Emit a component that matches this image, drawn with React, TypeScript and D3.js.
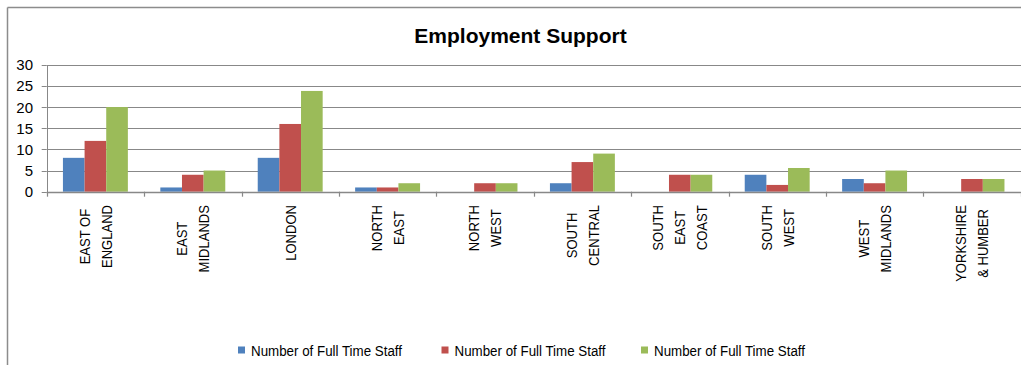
import React, { useEffect, useRef } from "react";
import * as d3 from "d3";

const categories: string[][] = [
  ["EAST OF", "ENGLAND"],
  ["EAST", "MIDLANDS"],
  ["LONDON"],
  ["NORTH", "EAST"],
  ["NORTH", "WEST"],
  ["SOUTH", "CENTRAL"],
  ["SOUTH", "EAST", "COAST"],
  ["SOUTH", "WEST"],
  ["WEST", "MIDLANDS"],
  ["YORKSHIRE", "& HUMBER"],
];
const seriesNames = ["Number of Full Time Staff", "Number of Full Time Staff", "Number of Full Time Staff"];
const blueValues = [8, 1, 8, 1, 0, 2, 0, 4, 3, 0];
const redValues = [12, 4, 16, 1, 2, 7, 4, 1.6, 2, 3];
const greenValues = [20, 5, 23.8, 2, 2, 9, 4, 5.6, 5, 3];
const yTicks = [0, 5, 10, 15, 20, 25, 30];
const title = "Employment Support";

const COLORS = ["#4F81BD", "#C0504D", "#9BBB59"];
const W = 1021;
const H = 365;
const FONT = "'Liberation Sans', Arial, sans-serif";

export default function App() {
  const ref = useRef<SVGSVGElement>(null);

  useEffect(() => {
    const svg = d3.select(ref.current);
    svg.selectAll("*").remove();

    const left = 46.7;
    const right = 1020.7;
    const top = 64.7;
    const bottom = 191.7;

    const x = d3.scaleBand<number>().domain(d3.range(categories.length)).range([left, right]).padding(0);
    const y = d3.scaleLinear().domain([0, 30]).range([bottom, top]);
    const cw = x.bandwidth();
    const bw = cw / 4.5;
    const off = (cw - 3 * bw) / 2;
    const xs = d3.scaleBand<number>().domain([0, 1, 2]).range([off, off + 3 * bw]).padding(0);

    // frame
    svg.append("line").attr("x1", 7.5).attr("x2", 7.5).attr("y1", 7.5).attr("y2", H).attr("stroke", "#8c8c8c").attr("stroke-width", 1.5);
    svg.append("line").attr("x1", 7.5).attr("x2", W).attr("y1", 7.5).attr("y2", 7.5).attr("stroke", "#8c8c8c").attr("stroke-width", 1.5);

    // title
    svg.append("text")
      .attr("x", 520.5).attr("y", 43)
      .attr("text-anchor", "middle")
      .attr("font-family", FONT).attr("font-weight", "bold").attr("font-size", 21)
      .attr("fill", "#000")
      .text(title);

    // gridlines
    svg.append("g").selectAll("line").data(yTicks).join("line")
      .attr("x1", left).attr("x2", W)
      .attr("y1", (d) => Math.round(y(d)) + 0.5).attr("y2", (d) => Math.round(y(d)) + 0.5)
      .attr("stroke", "#888").attr("stroke-width", 1);

    // y axis
    svg.append("line").attr("x1", Math.round(left) + 0.5).attr("x2", Math.round(left) + 0.5)
      .attr("y1", Math.round(top) + 0.5).attr("y2", Math.round(bottom) + 0.5).attr("stroke", "#888");
    svg.append("g").selectAll("line").data(yTicks).join("line")
      .attr("x1", left - 5).attr("x2", left)
      .attr("y1", (d) => Math.round(y(d)) + 0.5).attr("y2", (d) => Math.round(y(d)) + 0.5)
      .attr("stroke", "#888");
    svg.append("g").selectAll("text").data(yTicks).join("text")
      .attr("x", 33).attr("y", (d) => y(d) + 5.5)
      .attr("text-anchor", "end")
      .attr("font-family", FONT).attr("font-size", 15).attr("fill", "#000")
      .text((d) => String(d));

    // bars
    const series = [blueValues, redValues, greenValues];
    series.forEach((vals, si) => {
      svg.append("g").selectAll("rect").data(vals.map((v, i) => ({ v, i }))).join("rect")
        .filter((d) => d.v > 0)
        .attr("x", (d) => (x(d.i) as number) + (xs(si) as number))
        .attr("width", xs.bandwidth())
        .attr("y", (d) => y(d.v))
        .attr("height", (d) => y(0) - y(d.v))
        .attr("fill", COLORS[si]);
    });

    // x axis
    svg.append("line").attr("x1", left).attr("x2", right)
      .attr("y1", Math.round(bottom) + 0.5).attr("y2", Math.round(bottom) + 0.5)
      .attr("stroke", "#888").attr("stroke-width", 1.5);
    svg.append("g").selectAll("line").data(d3.range(categories.length + 1)).join("line")
      .attr("x1", (i) => Math.round(left + i * cw) + 0.5).attr("x2", (i) => Math.round(left + i * cw) + 0.5)
      .attr("y1", bottom).attr("y2", bottom + 5)
      .attr("stroke", "#888").attr("stroke-width", 1.2);

    // x labels
    const lineGap = 22;
    const blockTop = 205;
    const sx = 0.87;
    categories.forEach((lines, ci) => {
      const cx = (x(ci) as number) + cw / 2;
      const g = svg.append("g");
      const texts = lines.map((ln, j) => {
        const lc = cx + (j - (lines.length - 1) / 2) * lineGap;
        return g.append("text")
          .attr("text-anchor", "middle")
          .attr("font-family", FONT).attr("font-size", 15).attr("fill", "#000")
          .attr("data-lc", lc)
          .text(ln);
      });
      const lens = texts.map((t) => (t.node() as SVGTextElement).getComputedTextLength() * sx);
      const maxLen = d3.max(lens) || 0;
      const cy = blockTop + maxLen / 2;
      texts.forEach((t) => {
        const lc = +t.attr("data-lc");
        t.attr("transform", `translate(${lc + 5.3},${cy}) rotate(-90) scale(${sx},1)`);
      });
    });

    // legend
    const legX = [238, 441.5, 641];
    seriesNames.forEach((name, i) => {
      svg.append("rect").attr("x", legX[i]).attr("y", 346.5).attr("width", 7).attr("height", 7).attr("fill", COLORS[i]);
      svg.append("text")
        .attr("x", legX[i] + 13).attr("y", 355.5)
        .attr("font-family", FONT).attr("font-size", 14).attr("fill", "#000")
        .attr("textLength", 151).attr("lengthAdjust", "spacingAndGlyphs")
        .text(name);
    });
  }, []);

  return (
    <svg
      ref={ref}
      width={W}
      height={H}
      style={{ position: "absolute", left: 0, top: 0, background: "#fff" }}
    />
  );
}
